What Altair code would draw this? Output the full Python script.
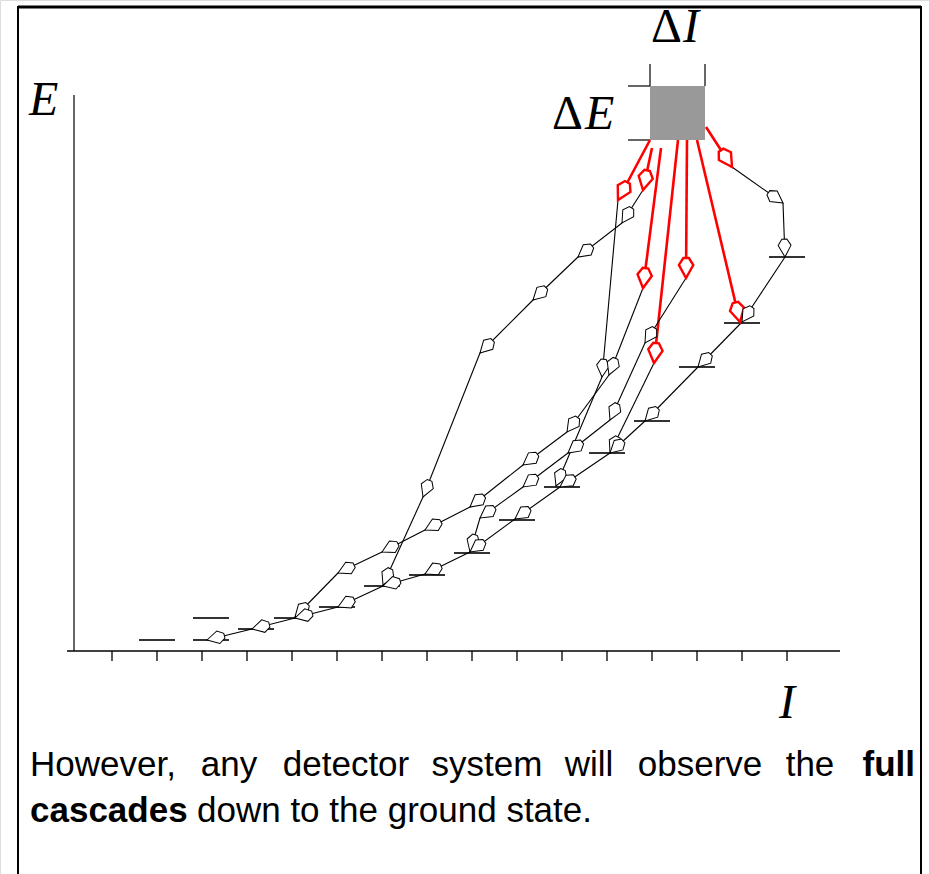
import math
import altair as alt
import pandas as pd

# ---------------- data (figure units; E grows downward) ----------------
TICK_I = [112, 157, 202, 247, 292, 337, 382, 427, 472, 517, 562, 607, 652, 697, 742, 787]

LEVEL_I = [157, 211, 211, 256, 292, 337, 382, 427, 472, 517, 562, 607, 652, 697, 742, 787]
LEVEL_E = [640, 640, 618, 629, 618, 607, 586, 575, 553, 520, 487, 453, 421, 367, 323, 257]

# cascades leaving the gate: first transition (red) then the following ones (black)
C1_I = [650, 618, 602, 556]
C1_E = [140, 200, 377, 486]
C2_I = [652, 643, 622, 578, 533, 480, 423, 383]
C2_E = [148, 190, 223, 257, 300, 353, 497, 585]
C3_I = [661, 643, 609, 567, 523, 470, 425, 382, 338, 295]
C3_E = [148, 288, 375, 432, 465, 507, 530, 552, 573, 617]
C4_I = [678, 654, 610]
C4_E = [140, 363, 453]
C5_I = [687, 686, 645, 610, 568, 523, 480, 470]
C5_E = [140, 278, 343, 420, 453, 487, 518, 552]
C6_I = [697, 740]
C6_E = [140, 322]
C7_I = [706, 732, 783, 785]
C7_E = [127, 167, 203, 257]
# yrast-like lower band, all black
Y_I = [785, 742, 698, 645, 610, 560, 515, 470, 425, 383, 338, 295, 252, 207]
Y_E = [257, 322, 367, 421, 453, 487, 519, 552, 574, 586, 607, 618, 629, 640]

GATE_I = [650, 705]
GATE_E = [86, 140]

CAPTION_1 = ["However,", "any", "detector", "system", "will", "observe", "the"]
CAPTION_1_BOLD = "full"
CAPTION_2_BOLD = "cascades"
CAPTION_2 = "down to the ground state."

# ---------------- build tables ----------------
RED, BLACK = "#ff0000", "#000000"
paths = [
    (C1_I, C1_E, True), (C2_I, C2_E, True), (C3_I, C3_E, True), (C4_I, C4_E, True),
    (C5_I, C5_E, True), (C6_I, C6_E, True), (C7_I, C7_E, True), (Y_I, Y_E, False),
]
seg_rows, arrow_rows = [], []
for xs, ys, first_red in paths:
    for k in range(len(xs) - 1):
        red = first_red and k == 0
        col = RED if red else BLACK
        seg_rows.append(dict(x=xs[k], y=ys[k], x2=xs[k + 1], y2=ys[k + 1], c=col,
                             w=2.6 if red else 1.1))
        dx, dy = xs[k + 1] - xs[k], ys[k + 1] - ys[k]
        ang = math.degrees(math.atan2(-dx, dy)) % 360
        arrow_rows.append(dict(x=xs[k + 1], y=ys[k + 1], angle=ang, c=col,
                               w=2.4 if red else 1.0, s=400 if red else 320))
segs = pd.DataFrame(seg_rows)
arrows = pd.DataFrame(arrow_rows)

levels = pd.DataFrame(dict(x=[v - 18 for v in LEVEL_I], x2=[v + 18 for v in LEVEL_I], y=LEVEL_E))

# frame, axes, ticks and gate markers
deco = [
    dict(x=18, y=7, x2=921, y2=7, w=3),
    dict(x=18, y=6, x2=18, y2=874, w=2),
    dict(x=921, y=6, x2=921, y2=874, w=2),
    dict(x=74, y=95, x2=74, y2=651, w=1.2),
    dict(x=67, y=651, x2=840, y2=651, w=1.4),
    dict(x=GATE_I[0], y=64, x2=GATE_I[0], y2=GATE_E[0], w=1.2),
    dict(x=GATE_I[1], y=64, x2=GATE_I[1], y2=GATE_E[0], w=1.2),
    dict(x=628, y=GATE_E[0], x2=GATE_I[0], y2=GATE_E[0], w=1.2),
    dict(x=628, y=GATE_E[1], x2=GATE_I[0], y2=GATE_E[1], w=1.2),
]
for t in TICK_I:
    deco.append(dict(x=t, y=651, x2=t, y2=661, w=1.3))
deco = pd.DataFrame(deco)

gate = pd.DataFrame(dict(x=[GATE_I[0]], x2=[GATE_I[1]], y=[GATE_E[0]], y2=[GATE_E[1]]))

# ---------------- chart ----------------
XS = alt.Scale(domain=[0, 929], nice=False, zero=False)
YS = alt.Scale(domain=[0, 874], nice=False, zero=False, reverse=True)


def X(f="x"):
    return alt.X(f"{f}:Q", scale=XS, axis=None)


def Y(f="y"):
    return alt.Y(f"{f}:Q", scale=YS, axis=None)


deco_l = alt.Chart(deco).mark_rule(color="black").encode(
    x=X(), y=Y(), x2="x2:Q", y2="y2:Q", strokeWidth=alt.StrokeWidth("w:Q", scale=None))
gate_l = alt.Chart(gate).mark_rect(color="#999999").encode(x=X(), x2="x2:Q", y=Y(), y2="y2:Q")
level_l = alt.Chart(levels).mark_rule(color="#333333", strokeWidth=2).encode(
    x=X(), x2="x2:Q", y=Y())
seg_l = alt.Chart(segs).mark_rule().encode(
    x=X(), y=Y(), x2="x2:Q", y2="y2:Q",
    stroke=alt.Stroke("c:N", scale=None),
    strokeWidth=alt.StrokeWidth("w:Q", scale=None))
ARROW = "M0,0 L-0.72,-1.3 L-0.28,-2 L0.28,-2 L0.72,-1.3 Z"
arrow_l = alt.Chart(arrows).mark_point(shape=ARROW, filled=True, fill="white", opacity=1,
                                       strokeJoin="miter").encode(
    x=X(), y=Y(),
    angle=alt.Angle("angle:Q", scale=None),
    stroke=alt.Stroke("c:N", scale=None),
    strokeWidth=alt.StrokeWidth("w:Q", scale=None),
    size=alt.Size("s:Q", scale=None))

# math labels
serif = "Liberation Serif"
upright = pd.DataFrame(dict(x=[651, 552], y=[42, 129], t=["Δ", "Δ"]))
italic = pd.DataFrame(dict(x=[683, 585, 29, 779], y=[42, 129, 115, 718], t=["I", "E", "E", "I"]))
up_l = alt.Chart(upright).mark_text(font=serif, fontSize=48, align="left", baseline="alphabetic",
                                    color="black").encode(x=X(), y=Y(), text="t:N")
it_l = alt.Chart(italic).mark_text(font=serif, fontSize=48, fontStyle="italic", align="left",
                                   baseline="alphabetic", color="black").encode(x=X(), y=Y(), text="t:N")

# caption, justified on the first line
sans = "Liberation Sans"
cap1 = pd.DataFrame(dict(x=[30, 229, 346, 487, 589, 700, 810], y=[776] * 7, t=CAPTION_1,
                         a=["left", "center", "center", "center", "center", "center", "center"]))
cap1_l = alt.Chart(cap1[cap1.a == "left"]).mark_text(font=sans, fontSize=35, align="left",
                                                     baseline="alphabetic", color="black").encode(
    x=X(), y=Y(), text="t:N")
cap1c_l = alt.Chart(cap1[cap1.a == "center"]).mark_text(font=sans, fontSize=35, align="center",
                                                        baseline="alphabetic", color="black").encode(
    x=X(), y=Y(), text="t:N")
bold_r = pd.DataFrame(dict(x=[915], y=[776], t=[CAPTION_1_BOLD]))
bold_r_l = alt.Chart(bold_r).mark_text(font=sans, fontSize=35, fontWeight="bold", align="right",
                                       baseline="alphabetic", color="black").encode(x=X(), y=Y(), text="t:N")
bold_l = pd.DataFrame(dict(x=[30], y=[822], t=[CAPTION_2_BOLD]))
bold_l_l = alt.Chart(bold_l).mark_text(font=sans, fontSize=35, fontWeight="bold", align="left",
                                       baseline="alphabetic", color="black").encode(x=X(), y=Y(), text="t:N")
rest = pd.DataFrame(dict(x=[197], y=[822], t=[CAPTION_2]))
rest_l = alt.Chart(rest).mark_text(font=sans, fontSize=35, align="left",
                                   baseline="alphabetic", color="black").encode(x=X(), y=Y(), text="t:N")

chart = alt.layer(
    deco_l, gate_l, level_l, seg_l, arrow_l, up_l, it_l,
    cap1_l, cap1c_l, bold_r_l, bold_l_l, rest_l,
).properties(
    width=929, height=874, padding=0,
    autosize=alt.AutoSizeParams(type="none"),
).configure_view(stroke=None).configure(background="white")

chart.save("out.html", embed_options={"renderer": "svg", "actions": False})
